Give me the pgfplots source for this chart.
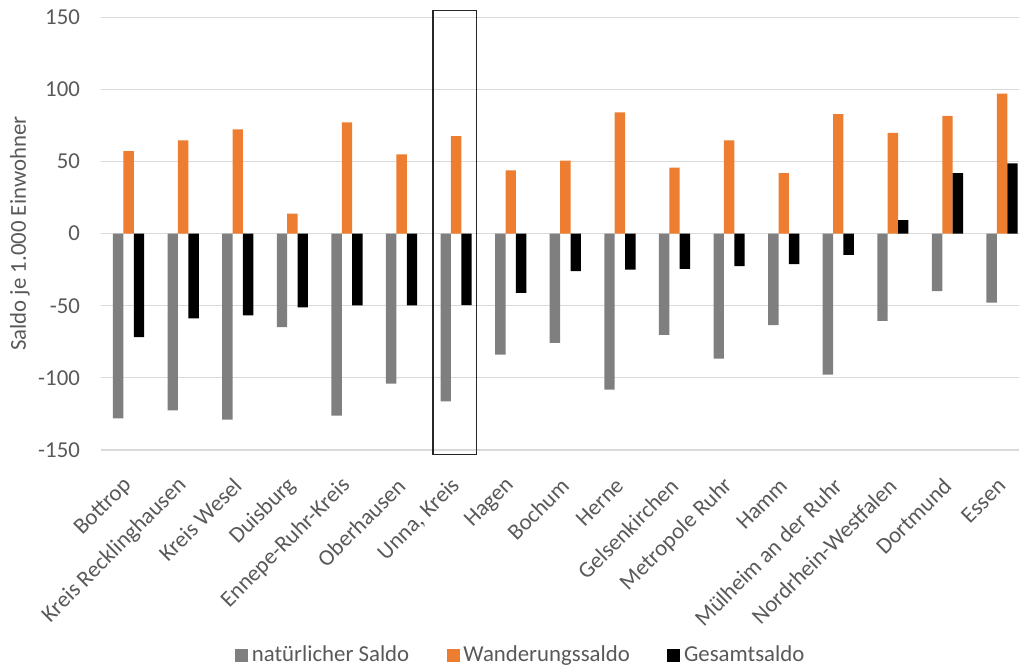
\documentclass[border=0pt]{standalone}
\usepackage{pgfplots}
\pgfplotsset{compat=1.18}
\usepackage{fontspec}
\setmainfont{Carlito}
\definecolor{natgray}{HTML}{7F7F7F}
\definecolor{worange}{HTML}{ED7D31}
\definecolor{txtgray}{HTML}{595959}
\definecolor{gridgray}{HTML}{D9D9D9}
\newcommand{\lblfont}{\fontsize{11.4}{13.5}\selectfont}
\begin{document}
\begin{tikzpicture}
\useasboundingbox (-50.65pt,-109.5pt) rectangle (458.85pt,225pt);
\begin{axis}[
  at={(0pt,0pt)}, anchor=south west,
  scale only axis, width=458.85pt, height=216.35pt,
  xmin=-0.5, xmax=16.31, ymin=-150, ymax=150,
  ybar=0pt, bar width=5.2pt,
  axis line style={draw=none},
  major tick length=0pt,
  ytick={-150,-100,-50,0,50,100,150},
  yticklabels={-150,-100,-50,0,50,100,150},
  ymajorgrids, grid style={gridgray, line width=0.6pt},
  xtick={0,...,16},
  xticklabels={Bottrop,Kreis Recklinghausen,Kreis Wesel,Duisburg,Ennepe-Ruhr-Kreis,Oberhausen,{Unna, Kreis},Hagen,Bochum,Herne,Gelsenkirchen,Metropole Ruhr,Hamm,Mülheim an der Ruhr,Nordrhein-Westfalen,Dortmund,Essen},
  tick label style={font=\lblfont, text=txtgray},
  yticklabel style={anchor=east, inner sep=0pt, xshift=-10.5pt},
  xticklabel style={xshift=0pt, yshift=-16pt, rotate=45, anchor=east, inner sep=0pt},
  ylabel={Saldo je 1.000 Einwohner},
  every axis y label/.style={at={(axis description cs:-0.0886,0.5)}, rotate=90, anchor=center, font=\lblfont, text=txtgray},
  legend columns=-1,
  legend style={draw=none, fill=none, at={(0.458,-0.474)}, anchor=center, font=\lblfont, text=txtgray,
    nodes={inner sep=1.8pt},
    /tikz/every even column/.append style={column sep=17pt}},
  legend image code/.code={\fill[#1] (0pt,-3.25pt) rectangle (6.5pt,3.25pt);},
  clip=false,
]
\addplot[fill=natgray, draw=none] coordinates {
(0,-128.0) (1,-122.5) (2,-129.0) (3,-64.8) (4,-126.2) (5,-104.0) (6,-116.3) (7,-83.9)
(8,-75.7) (9,-108.1) (10,-70.1) (11,-86.6) (12,-63.4) (13,-97.7) (14,-60.4) (15,-39.8) (16,-47.9)};
\addplot[fill=worange, draw=none] coordinates {
(0,57.3) (1,64.7) (2,72.3) (3,13.9) (4,77.2) (5,55.0) (6,67.7) (7,43.9)
(8,50.7) (9,84.0) (10,45.8) (11,64.6) (12,41.9) (13,82.9) (14,69.9) (15,81.7) (16,97.0)};
\addplot[fill=black, draw=none] coordinates {
(0,-71.7) (1,-58.7) (2,-56.7) (3,-51.1) (4,-49.7) (5,-49.7) (6,-49.5) (7,-41.0)
(8,-25.9) (9,-25.0) (10,-24.5) (11,-22.5) (12,-21.1) (13,-14.8) (14,9.3) (15,41.9) (16,48.8)};
\legend{natürlicher Saldo,Wanderungssaldo,Gesamtsaldo}
\draw[color=black!85, line width=0.75pt] (axis cs:5.58,-153.2) rectangle (axis cs:6.37,154.8);
\end{axis}
\end{tikzpicture}
\end{document}
